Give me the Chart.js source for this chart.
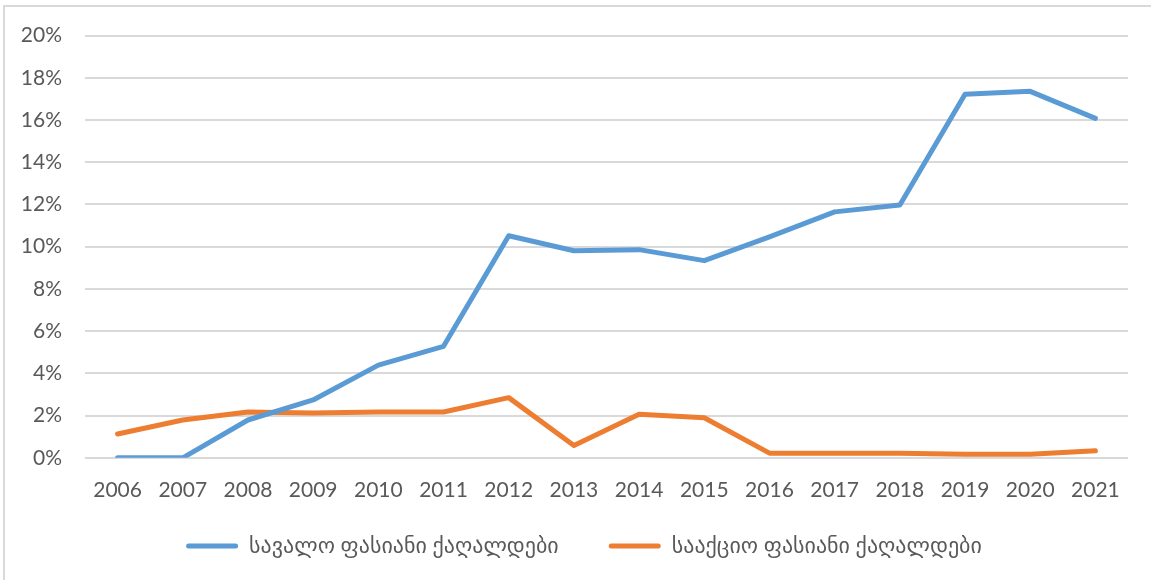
<!DOCTYPE html>
<html>
<head>
<meta charset="utf-8">
<script src="https://cdn.jsdelivr.net/npm/chart.js@4"></script>
<style>
  html, body { margin: 0; padding: 0; background: #fff; }
  #wrap { position: relative; width: 1151px; height: 580px; overflow: hidden; }
  #frame { position: absolute; left: 3px; top: 5px; width: 1160px; height: 600px;
           border-left: 2px solid #D9D9D9; border-top: 2px solid #D9D9D9; box-sizing: border-box; }
  canvas { position: absolute; left: 0; top: 0; }
</style>
</head>
<body>
<div id="wrap">
  <div id="frame"></div>
  <canvas id="c" width="1151" height="580"></canvas>
</div>
<script>
const years = ['2006','2007','2008','2009','2010','2011','2012','2013','2014','2015','2016','2017','2018','2019','2020','2021'];
const seriesNames = ['სავალო ფასიანი ქაღალდები', 'სააქციო ფასიანი ქაღალდები'];
const debtSecurities = [0, 0, 1.79, 2.74, 4.39, 5.28, 10.52, 9.81, 9.86, 9.34, 10.47, 11.65, 11.98, 17.22, 17.36, 16.08];
const equitySecurities = [1.13, 1.79, 2.17, 2.12, 2.17, 2.17, 2.85, 0.58, 2.06, 1.90, 0.22, 0.22, 0.22, 0.17, 0.17, 0.33];
const yTicks = [0, 2, 4, 6, 8, 10, 12, 14, 16, 18, 20];

const colors = ['#5B9BD5', '#ED7D31'];

// shift the legend box after layout (horizontal centre & vertical position)
const legendShift = {
  id: 'legendShift',
  afterLayout(chart) {
    const lg = chart.legend;
    if (!lg) return;
    const dx = 20, dy = -38;
    lg.left += dx; lg.right += dx;
    lg.top += dy; lg.bottom += dy;
  }
};

new Chart(document.getElementById('c'), {
  type: 'line',
  data: {
    labels: years,
    datasets: [
      { label: seriesNames[0], data: debtSecurities, borderColor: colors[0], backgroundColor: colors[0],
        borderWidth: 5, pointRadius: 0, tension: 0, borderCapStyle: 'round', borderJoinStyle: 'round' },
      { label: seriesNames[1], data: equitySecurities, borderColor: colors[1], backgroundColor: colors[1],
        borderWidth: 5, pointRadius: 0, tension: 0, borderCapStyle: 'round', borderJoinStyle: 'round' }
    ]
  },
  plugins: [legendShift],
  options: {
    responsive: false,
    animation: false,
    layout: { padding: { left: 0, right: 23, top: 25, bottom: -25 } },
    plugins: {
      tooltip: { enabled: false },
      legend: {
        position: 'bottom',
        labels: {
          font: { family: "Lato, 'DejaVu Sans', sans-serif", size: 22, lineHeight: 1.2 },
          color: '#595959',
          boxWidth: 52,
          boxHeight: 5,
          padding: 50,
          useBorderRadius: true,
          borderRadius: 2.5,
          generateLabels: (chart) => chart.data.datasets.map((ds, i) => ({
            text: ds.label, fillStyle: ds.borderColor, strokeStyle: ds.borderColor,
            lineWidth: 0, hidden: false, datasetIndex: i, borderRadius: 2.5, fontColor: '#595959'
          }))
        }
      }
    },
    scales: {
      x: {
        offset: true,
        grid: { display: false, drawTicks: false },
        border: { display: false },
        ticks: { color: '#595959', font: { family: 'Lato', size: 21 }, padding: 20, maxRotation: 0 }
      },
      y: {
        min: 0, max: 20,
        afterFit: (axis) => { axis.width = 85; },
        afterBuildTicks: (axis) => { axis.ticks = yTicks.map(v => ({ value: v })); },
        grid: { color: '#D9D9D9', lineWidth: 2, drawTicks: false },
        border: { display: false },
        ticks: { color: '#595959', font: { family: 'Lato', size: 21 }, padding: 23,
                 callback: (v) => v + '%' }
      }
    }
  }
});
</script>
</body>
</html>
